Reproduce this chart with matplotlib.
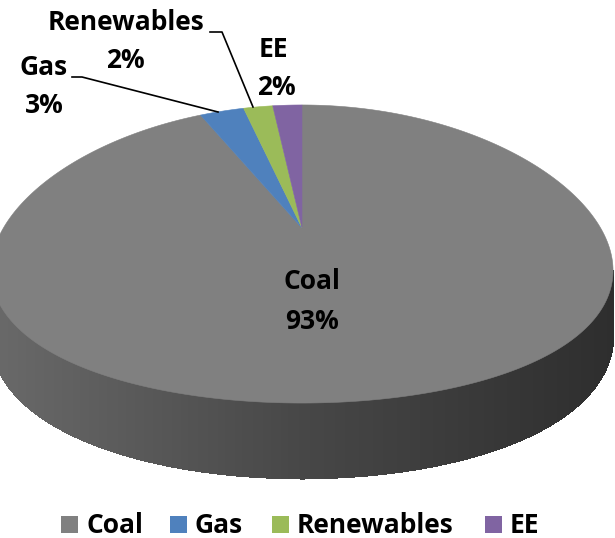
import numpy as np
import matplotlib
matplotlib.use("Agg")
import matplotlib.pyplot as plt
from matplotlib.patches import Polygon, Rectangle

# --- data ---
categories = ["Coal", "Gas", "Renewables", "EE"]
shares = [93, 3, 2, 2]
colors = ["#808080", "#4f81bd", "#9bbb59", "#8064a2"]

# --- layout (pixel space) ---
W, H_FIG = 615, 538
CX, CY = 302, 228          # slice apex on screen
A, B = 298.6, 144.5        # disc radii before perspective
KX, KY = 0.28, 0.1745      # perspective strength (horizontal / vertical)
THICK = 62                 # side depth
FONT = "Open Sans"
FSIZE = 19


def project(phi, drop=0.0):
    s = np.sin(phi)
    wx = 1.0 / (1.0 + KX * s)
    wy = 1.0 / (1.0 + KY * s)
    x = CX + A * np.cos(phi) * wx
    y = CY - B * s * wy + drop * wy
    return x, y


fig = plt.figure(figsize=(W / 100, H_FIG / 100), dpi=100)
ax = fig.add_axes([0, 0, 1, 1])
ax.set_xlim(0, W)
ax.set_ylim(H_FIG, 0)
ax.axis("off")

# --- side wall (front arc), shaded left to right ---
phi0 = np.pi + np.arcsin(KX)
phi1 = 2 * np.pi - np.arcsin(KX)
edges = np.linspace(phi0, phi1, 300)
shade_x = [0, 300, 615]
shade_v = [0.41, 0.28, 0.18]
for p0, p1 in zip(edges[:-1], edges[1:]):
    xt0, yt0 = project(p0)
    xt1, yt1 = project(p1)
    xb0, yb0 = project(p0, THICK)
    xb1, yb1 = project(p1, THICK)
    g = np.interp((xt0 + xt1) / 2, shade_x, shade_v)
    ax.add_patch(Polygon([(xt0, yt0), (xt1, yt1), (xb1, yb1), (xb0, yb0)],
                         closed=True, facecolor=(g, g, g), edgecolor=(g, g, g),
                         linewidth=1.0, antialiased=False))

# --- top surface wedges, clockwise from 12 o'clock ---
start = np.pi / 2
total = sum(shares)
for share, col in zip(shares, colors):
    sweep = 2 * np.pi * share / total
    phis = np.linspace(start, start - sweep, max(int(share * 8), 12))
    xs, ys = project(phis)
    pts = [(CX, CY)] + list(zip(xs, ys))
    ax.add_patch(Polygon(pts, closed=True, facecolor=col, edgecolor=col,
                         linewidth=0.4))
    start -= sweep

# --- labels (baseline positions) ---
font = dict(family=FONT, fontweight="bold", fontsize=FSIZE, color="black",
            ha="center", va="baseline")
ax.text(312, 289, "Coal", **font)
ax.text(312, 329, "93%", **font)
ax.text(44, 75, "Gas", **font)
ax.text(44, 113, "3%", **font)
ax.text(126, 30, "Renewables", **font)
ax.text(125, 68, "2%", **font)
ax.text(273, 57, "EE", **font)
ax.text(276, 95, "2%", **font)

# leader lines
ax.plot([72, 82, 218], [77, 77, 112], color="black", linewidth=1.2)
ax.plot([210, 222, 253], [32, 32, 107], color="black", linewidth=1.2)

# --- legend ---
legend_x = [61, 170, 272, 485]
for lx, name, col in zip(legend_x, categories, colors):
    ax.add_patch(Rectangle((lx, 516), 17, 17, facecolor=col, edgecolor="none"))
    ax.text(lx + 25, 533, name, family=FONT, fontweight="bold", fontsize=FSIZE,
            ha="left", va="baseline", color="black")

fig.savefig("out.png", dpi=100)
